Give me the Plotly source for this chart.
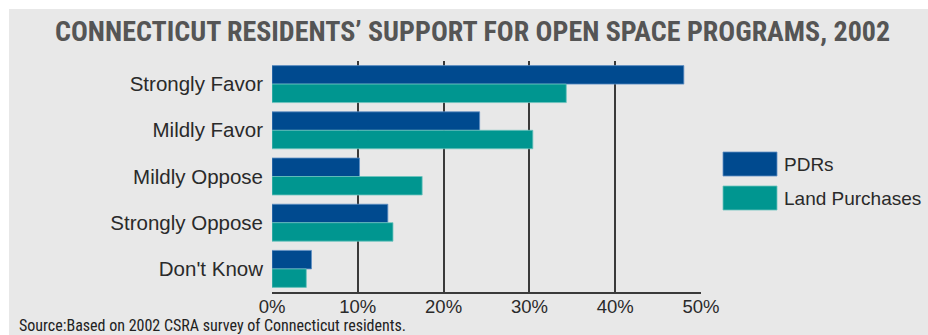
import plotly.graph_objects as go

# Survey responses (percent of residents)
categories = ["Strongly Favor", "Mildly Favor", "Mildly Oppose", "Strongly Oppose", "Don't Know"]
pdr_values = [48, 24.2, 10.2, 13.5, 4.6]
land_values = [34.3, 30.4, 17.5, 14.1, 4.0]
series_names = ["PDRs", "Land Purchases"]
tick_values = [0, 10, 20, 30, 40, 50]
tick_labels = ["0%", "10%", "20%", "30%", "40%", "50%"]

W, H = 928, 335
ML, MR, MT, MB = 272, 227, 61, 43
PW, PH = W - ML - MR, H - MT - MB

PDR_COLOR = "#004A8F"
LAND_COLOR = "#009690"
PDR_EDGE = "#5F8FC4"
LAND_EDGE = "#6CC4BE"
BG = "#E8E8E8"
GRID = "#3A3A3A"
TEXT = "#2A2A2A"
BODY_FONT = "Liberation Sans, Arial, sans-serif"
NARROW_FONT = "Roboto Condensed, Liberation Sans Narrow, sans-serif"


def px_x(p):
    return (p - ML) / PW


def px_y(p):
    return (H - MB - p) / PH


fig = go.Figure()
fig.add_trace(go.Bar(
    y=categories, x=pdr_values, name=series_names[0], orientation="h",
    marker=dict(color=PDR_COLOR, line=dict(color=PDR_EDGE, width=0.8)),
))
fig.add_trace(go.Bar(
    y=categories, x=land_values, name=series_names[1], orientation="h",
    marker=dict(color=LAND_COLOR, line=dict(color=LAND_EDGE, width=0.8)),
))

shapes = [
    # light gray panel behind everything
    dict(type="rect", xref="paper", yref="paper", layer="below",
         x0=px_x(9), x1=px_x(W + 5), y0=px_y(H + 5), y1=px_y(9),
         fillcolor=BG, line=dict(width=0)),
]

annotations = [
    dict(text="<b>CONNECTICUT RESIDENTS\u2019 SUPPORT FOR OPEN SPACE PROGRAMS, 2002</b>",
         xref="paper", yref="paper", x=px_x(472), y=px_y(32),
         xanchor="center", yanchor="middle", showarrow=False,
         font=dict(family=NARROW_FONT, size=28, color="#555555")),
    dict(text="Source:Based on 2002 CSRA survey of Connecticut residents.",
         xref="paper", yref="paper", x=px_x(17), y=px_y(325.3),
         xanchor="left", yanchor="middle", showarrow=False,
         font=dict(family=NARROW_FONT, size=16, color="#222222")),
]

# legend swatches and labels
legend_rows = [(152, series_names[0], PDR_COLOR, PDR_EDGE),
               (186, series_names[1], LAND_COLOR, LAND_EDGE)]
for top, name, color, edge in legend_rows:
    shapes.append(dict(type="rect", xref="paper", yref="paper",
                       x0=px_x(723), x1=px_x(777), y0=px_y(top + 24), y1=px_y(top),
                       fillcolor=color, line=dict(color=edge, width=0.8)))
    annotations.append(dict(text=name, xref="paper", yref="paper",
                            x=px_x(782), y=px_y(top + 12.5),
                            xanchor="left", yanchor="middle", showarrow=False,
                            font=dict(family=BODY_FONT, size=19, color=TEXT)))

fig.update_layout(
    width=W, height=H,
    margin=dict(l=ML, r=MR, t=MT, b=MB, pad=0),
    paper_bgcolor="white",
    plot_bgcolor="rgba(0,0,0,0)",
    barmode="group",
    bargap=0.2,
    bargroupgap=0,
    showlegend=False,
    shapes=shapes,
    annotations=annotations,
    font=dict(family=BODY_FONT, size=18, color=TEXT),
    xaxis=dict(range=[0, 50], tickvals=tick_values, ticktext=tick_labels,
               showgrid=True, gridcolor=GRID, gridwidth=1.5,
               zeroline=False, showline=True, linecolor=GRID, linewidth=1.5,
               ticks="", ticklabelstandoff=-3, tickfont=dict(size=18.5),
               fixedrange=True),
    yaxis=dict(autorange="reversed", showgrid=False, showline=False,
               ticks="", ticklabelstandoff=8, tickfont=dict(size=20.5)),
)

fig.write_html("out.html")
